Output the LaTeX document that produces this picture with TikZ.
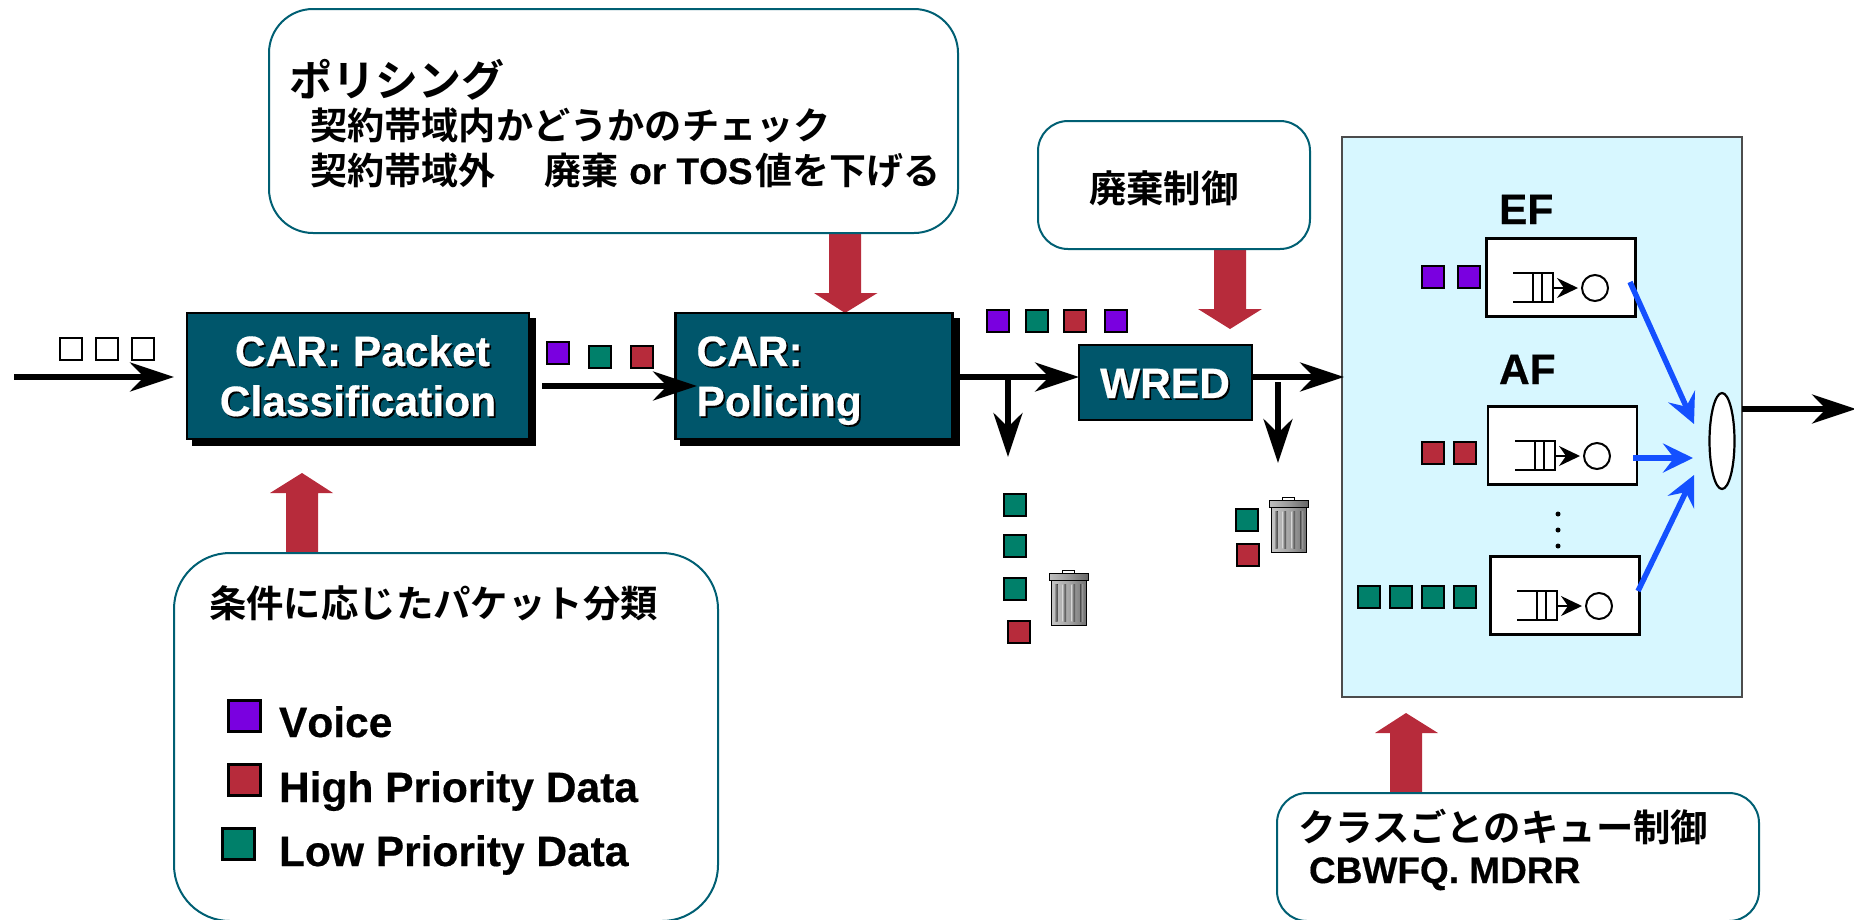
\documentclass[tikz,border=0pt]{standalone}
\usepackage{fontspec}
\setmainfont{Liberation Sans}[Kerning=Off,BoldFeatures={FakeBold=0.4}]
\newfontfamily\cjk{Noto Sans CJK JP}[BoldFont={Noto Sans CJK JP Bold}]
\usetikzlibrary{arrows.meta,shapes.geometric,shadows}
\definecolor{boxteal}{HTML}{00566B}
\definecolor{calloutline}{HTML}{005F73}
\definecolor{fatred}{HTML}{B72B3B}
\definecolor{pktpurple}{HTML}{7A00E0}
\definecolor{pktgreen}{HTML}{00806A}
\definecolor{panelblue}{HTML}{D7F7FF}
\definecolor{flowblue}{HTML}{1450FF}
\newcommand{\fs}[1]{\fontsize{#1}{#1}\selectfont}
\newcommand{\shtext}[1]{\leavevmode\rlap{\kern1.8pt\raisebox{-1.8pt}{\color{black}#1}}#1}
\tikzset{
  x=1pt,y=-1pt,
  every node/.style={inner sep=0pt,outer sep=0pt},
  tealbox/.style={draw=black,line width=2.5pt,fill=boxteal,rectangle},
  dropbox/.style={tealbox,copy shadow={draw=black,fill=black,shadow xshift=6pt,shadow yshift=-6pt}},
  callout/.style={draw=calloutline,line width=2pt,fill=white,rectangle},
  packet/.style={draw=black,line width=2pt,rectangle,minimum size=22pt},
  flow/.style={line width=5.5pt,draw=black,-{Stealth[length=44pt,width=29pt,inset=14pt]}},
  blueflow/.style={line width=5.5pt,draw=flowblue,-{Stealth[length=30pt,width=29pt,inset=11pt]}},
  qbox/.style={draw=black,line width=2.5pt,fill=white,rectangle,minimum width=149pt,minimum height=78pt},
  lab/.style={anchor=base west,font=\bfseries},
  fatarrow/.style={fill=fatred,draw=none},
}
% name, centre x, centre y, colour
\newcommand{\pkt}[4]{\node[packet,fill=#4] (#1) at (#2,#3) {};}
% name prefix, dx, dy
\newcommand{\queueicon}[3]{%
  \begin{scope}[shift={(#2,#3)}]
    \draw[line width=2pt] (1513,273) -- (1553,273) -- (1553,302) -- (1513,302);
    \draw[line width=2pt] (1533,273) -- (1533,302) (1542,273) -- (1542,302);
    \node[circle,draw=black,line width=2pt,minimum size=26pt,fill=white] (#1c) at (1595,288) {};
    \coordinate (#1q) at (1553,288);
    \coordinate (#1t) at (1578,288);
    \draw[line width=2pt,-{Stealth[length=21pt,width=20pt,inset=7pt]}] (#1q) -- (#1t);
  \end{scope}}
% left x of body, top y of body
\newcommand{\trashcan}[2]{%
  \begin{scope}[shift={(#1,#2)}]
    \draw[black,line width=1pt,fill=white] (11,0) -- (11,-9.5) -- (23,-9.5) -- (23,0);
    \draw[black,line width=.8pt,left color=gray!45,right color=black!55,middle color=gray!70] (0,0) rectangle (35,45);
    \foreach \sx in {3,11.5,20.5} {\fill[left color=black!25,right color=black!70,middle color=black!55] (\sx,4) rectangle +(3.5,37);}
    \fill[left color=black!70,right color=black!25] (29,4) rectangle +(3,37);
    \draw[black,line width=.8pt,left color=gray!50,right color=black!60,middle color=gray!80] (-2,-7) rectangle (37,0);
  \end{scope}}
\begin{document}
\begin{tikzpicture}
\useasboundingbox (0,0) rectangle (1854,919);
\clip (0,0) rectangle (1854,919);

% fat red arrows
\fill[fatarrow] (829,230) -- (861,230) -- (861,293) -- (877.5,293) -- (845,313) -- (814,293) -- (829,293) -- cycle;
\fill[fatarrow] (1214,245) -- (1246,245) -- (1246,309) -- (1262,309) -- (1230,329) -- (1198,309) -- (1214,309) -- cycle;
\fill[fatarrow] (286,556) -- (318,556) -- (318,493) -- (333,493) -- (302,473) -- (270,493) -- (286,493) -- cycle;
\fill[fatarrow] (1390,796) -- (1422,796) -- (1422,733) -- (1438,733) -- (1406,713) -- (1375,733) -- (1390,733) -- cycle;

% callouts
\node[callout,rounded corners=44pt,minimum width=689pt,minimum height=224pt] (policeCallout) at (613.5,121) {};
\node[callout,rounded corners=30pt,minimum width=272pt,minimum height=128pt] (dropCallout) at (1174,185) {};
\node[callout,rounded corners=56pt,minimum width=544pt,minimum height=368pt] (classCallout) at (446,737) {};
\node[callout,rounded corners=30pt,minimum width=482pt,minimum height=128pt] (queueCallout) at (1518,857) {};

% callout texts
\node[lab] (t1) at (289,96) {\fs{43}\cjk\bfseries ポリシング};
\node[lab] (t2) at (310,139) {\fs{37.2}\cjk\bfseries 契約帯域内かどうかのチェック};
\node[lab] (t3) at (310,184) {\fs{37}{\cjk\bfseries 契約帯域外\hspace{50pt}廃棄} or TOS{\kern3pt\cjk\bfseries 値を下げる}};
\node[lab] (t4) at (1089,202) {\fs{37.4}\cjk\bfseries 廃棄制御};
\node[lab] (t5) at (209,617) {\fs{37.4}\cjk\bfseries 条件に応じたパケット分類};
\node[lab] (t6) at (1298,841) {\fs{37.4}\cjk\bfseries クラスごとのキュー制御};
\node[lab] (t7) at (1309,883) {\fs{37}CBWFQ. MDRR};

% legend
\node[draw=black,line width=3pt,rectangle,minimum width=32pt,minimum height=31pt,fill=pktpurple] (legV) at (244.5,716) {};
\node[draw=black,line width=3pt,rectangle,minimum width=32pt,minimum height=31pt,fill=fatred] (legH) at (244.5,780) {};
\node[draw=black,line width=3pt,rectangle,minimum width=32pt,minimum height=31pt,fill=pktgreen] (legL) at (238.5,844) {};
\node[lab] (tv) at (279,737) {\fs{42.5}Voice};
\node[lab] (th) at (279,802) {\fs{42.5}High Priority Data};
\node[lab] (tl) at (279,866) {\fs{42.5}Low Priority Data};

% panel
\node[draw=black!70,line width=1.6pt,fill=panelblue,rectangle,minimum width=400pt,minimum height=560pt] (panel) at (1542,417) {};
\node[lab] (ef) at (1499,224) {\fs{42.5}EF};
\node[lab] (af) at (1499,384) {\fs{42.5}AF};
\node[qbox] (q1) at (1561,277.5) {};
\node[qbox] (q2) at (1562.5,445.5) {};
\node[qbox] (q3) at (1565,595.5) {};
\queueicon{a}{0}{0}
\queueicon{b}{2}{168}
\queueicon{d}{4}{318}
\fill (1558,514) circle (2.5) (1558,530) circle (2.5) (1558,546) circle (2.5);
\node[ellipse,draw=black,line width=2.2pt,fill=white,minimum width=25pt,minimum height=96pt] (sched) at (1722,441) {};

\pkt{p1}{1432.5}{276.5}{pktpurple}
\pkt{p2}{1468.5}{276.5}{pktpurple}
\pkt{p3}{1432.5}{452.5}{fatred}
\pkt{p4}{1464.5}{452.5}{fatred}
\pkt{p5}{1368.5}{596.5}{pktgreen}
\pkt{p6}{1400.5}{596.5}{pktgreen}
\pkt{p7}{1432.5}{596.5}{pktgreen}
\pkt{p8}{1464.5}{596.5}{pktgreen}

\coordinate (b1s) at (1630,282);
\coordinate (b1e) at (1694,424);
\coordinate (b2s) at (1633,458);
\coordinate (b2e) at (1693,458);
\coordinate (b3s) at (1638,591);
\coordinate (b3e) at (1694,475);
\draw[blueflow] (b1s) -- (b1e);
\draw[blueflow] (b2s) -- (b2e);
\draw[blueflow] (b3s) -- (b3e);

% main boxes
\node[dropbox,minimum width=342pt,minimum height=126pt,align=center,text=white] (car1) at (358,376) {};
\node[anchor=base,text=white,font=\bfseries\fs{42.5}] (car1a) at (362.5,366) {\shtext{CAR: Packet}};
\node[anchor=base,text=white,font=\bfseries\fs{42.5}] (car1b) at (358,416) {\shtext{Classification}};
\node[dropbox,minimum width=277pt,minimum height=126pt] (car2) at (814,376) {};
\node[lab,text=white] (car2a) at (696.5,366) {\fs{42.5}\shtext{CAR:}};
\node[lab,text=white] (car2b) at (696.5,416) {\fs{42.5}\shtext{Policing}};
\node[tealbox,minimum width=173pt,minimum height=75pt] (wred) at (1165.5,382.5) {};
\node[anchor=base,text=white,font=\bfseries\fs{42.5}] (wredt) at (1165,398) {\shtext{WRED}};

% packets along the path
\node[packet,draw=black,fill=white] (w1) at (71,349) {};
\node[packet,draw=black,fill=white] (w2) at (106.5,349) {};
\node[packet,draw=black,fill=white] (w3) at (143,349) {};
\pkt{c1}{557.5}{352.5}{pktpurple}
\pkt{c2}{599.5}{356.5}{pktgreen}
\pkt{c3}{641.5}{356.5}{fatred}
\pkt{d1}{997.5}{320.5}{pktpurple}
\pkt{d2}{1036.5}{321}{pktgreen}
\pkt{d3}{1074.5}{321}{fatred}
\pkt{d4}{1116}{320.5}{pktpurple}
\pkt{e1}{1015}{505}{pktgreen}
\pkt{e2}{1015}{546}{pktgreen}
\pkt{e3}{1015}{589}{pktgreen}
\pkt{e4}{1019}{632}{fatred}
\pkt{g1}{1246.5}{519.5}{pktgreen}
\pkt{g2}{1248}{555}{fatred}
\trashcan{1051}{580}
\trashcan{1271}{507}

% connectors
\coordinate (inS) at (14,377);
\coordinate (inE) at (174,377);
\draw[flow] (inS) -- (inE);
\coordinate (a2s) at (542,386);
\coordinate (a2e) at (697,386);
\draw[flow] (a2s) -- (a2e);
\coordinate (a3s) at (959,377);
\draw[flow] (a3s) -- (wred.west |- a3s);
\coordinate (a4s) at (1008,377);
\coordinate (a4e) at (1008,457);
\draw[flow] (a4s) -- (a4e);
\coordinate (a5s) at (1252,377);
\coordinate (a5e) at (1344,377);
\draw[flow] (a5s) -- (a5e);
\coordinate (a6s) at (1278,382);
\coordinate (a6e) at (1278,463);
\draw[flow] (a6s) -- (a6e);
\coordinate (a7s) at (1742,409);
\coordinate (a7e) at (1856,409);
\draw[flow] (a7s) -- (a7e);
\end{tikzpicture}
\end{document}
